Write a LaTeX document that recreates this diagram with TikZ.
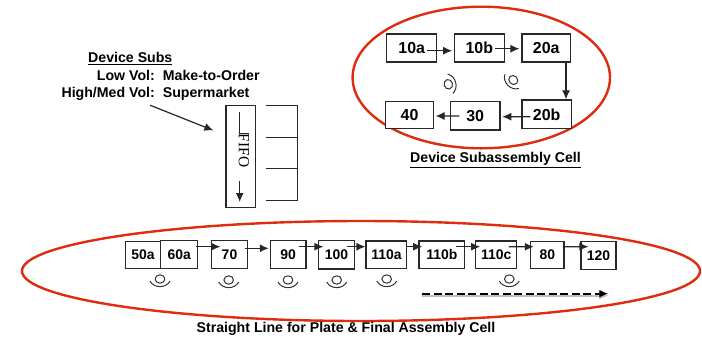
\documentclass[tikz,border=0pt]{standalone}
\usepackage{fontspec}
\setmainfont{Liberation Sans}
\newfontfamily\fifofont{Liberation Serif}
\usetikzlibrary{positioning, calc, arrows.meta}
\definecolor{cellred}{RGB}{222, 44, 14}
\definecolor{boxline}{RGB}{40, 40, 40}
\tikzset{
  stn/.style={draw=boxline, fill=white, line width=1.2bp, inner sep=0pt, font=\fontsize{#1}{#1}\selectfont\bfseries},
  stn/.default=14,
  caption/.style={inner sep=0pt, font=\fontsize{14.2}{14.2}\selectfont\bfseries},
  flow/.style={-{Latex[length=9bp,width=8bp]}, line width=1.2bp, draw=black!85},
  cell/.style={draw=cellred, line width=2.4bp},
  oper/.pic={
    \draw[line width=1bp, black!80] (0,0) ellipse (4.8 and 4.2);
    \draw[line width=1bp, black!80] (-10,2) .. controls (-6,9.5) and (6,9.5) .. (10,2);
  }
}
\begin{document}
\begin{tikzpicture}[x=1bp, y=-1bp]
            \useasboundingbox (0,0) rectangle (702,340);
            \fill[white] (0,0) rectangle (702,340);
            % Subassembly cell
            \draw[cell] (481.3,77.5) ellipse (128.7 and 70.8);
            \node[stn=16, minimum width=50bp, minimum height=28bp] (s10a) at (411.7,48) {10a};
            \node[stn=16, minimum width=50bp, minimum height=28bp] (s10b) at (479.3,48) {10b};
            \node[stn=16, minimum width=48.3bp, minimum height=28bp] (s20a) at (546.2,48) {20a};
            \node[stn=16, minimum width=49.3bp, minimum height=28.7bp] (s20b) at (546.7,114.3) {20b};
            \node[stn=16, minimum width=49.7bp, minimum height=28.7bp] (s30) at (475.2,115.7) {30};
            \node[stn=16, minimum width=48.4bp, minimum height=27.4bp] (s40) at (409.5,115) {40};
            \draw[flow] ([shift={(-10,2.7)}]s10a.east) -- ([shift={(-1.6,2.7)}]s10b.west);
            \draw[flow] ([shift={(-10.3,0.7)}]s10b.east) -- ([shift={(-2,0.7)}]s20a.west);
            \draw[flow] ([xshift=19.8bp]s20a.south) -- ([xshift=19.3bp]s20b.north);
            \draw[flow] ([shift={(9,2.4)}]s20b.west) -- ([shift={(1.7,1)}]s30.east);
            \draw[flow] ([shift={(9.6,0.3)}]s30.west) -- ([shift={(1.3,1)}]s40.east);
            \pic[rotate=105] at (448.3,84.3) {oper};
            \pic[rotate=-45] at (513.3,80) {oper};
            \node[caption] (subcap) at (495.5,160) {\underline{Device Subassembly Cell}};
            % Supermarket note
            \node[caption] (subhead) at (130.3,58.3) {\underline{Device Subs}};
            \node[caption, anchor=base east] (lowvol) at (155,80) {Low Vol:};
            \node[caption, anchor=base west] (lowval) at (162.7,80) {Make-to-Order};
            \node[caption, anchor=base east] (hivol) at (155,97) {High/Med Vol:};
            \node[caption, anchor=base west] (hival) at (162.7,97) {Supermarket};
            % FIFO lane
            \node[draw=boxline, line width=1.2bp, minimum width=29.7bp, minimum height=101.6bp, inner sep=0pt] (fifobox) at (240.8,156.5) {};
            \node[rotate=-90, inner sep=0pt, font=\fontsize{15.5}{15.5}\selectfont\fifofont] (fifotxt) at (244,150.5) {FIFO};
            \coordinate (fifotop) at (239.7,111.7);
            \coordinate (fifomid) at (239.7,133);
            \coordinate (fifodown) at (239.7,180.7);
            \coordinate (fifoend) at (239.7,202);
            \draw[line width=1bp, black!85] (fifotop) -- (fifomid) -- (fifotxt.north west |- fifomid);
            \draw[flow] (fifodown) -- (fifoend);
            \draw[flow] ([shift={(-5,5)}]hivol.south east) -- ([shift={(-12,25.3)}]fifobox.north west);
            \draw[line width=1.2bp, boxline] (266,105.7) -- (297.7,105.7) -- (297.7,200.3) -- (266,200.3);
            \draw[line width=1.2bp, boxline] (266,137.3) -- (297.7,137.3);
            \draw[line width=1.2bp, boxline] (266,168.7) -- (297.7,168.7);
            % Final assembly cell
            \draw[cell] (361,271) ellipse (339 and 50);
            \node[stn, minimum width=35.4bp, minimum height=26.6bp] (s50a) at (143,255) {50a};
            \node[stn, minimum width=37bp, minimum height=28bp] (s60a) at (179.2,254.3) {60a};
            \node[stn, minimum width=35.6bp, minimum height=28bp] (s70) at (229.5,254.3) {70};
            \node[stn, minimum width=35.7bp, minimum height=28bp] (s90) at (288.2,254.3) {90};
            \node[stn, minimum width=35.6bp, minimum height=28.7bp] (s100) at (336.5,254.7) {100};
            \node[stn, minimum width=40.7bp, minimum height=27.3bp] (s110a) at (386.4,254.7) {110a};
            \node[stn, minimum width=45.7bp, minimum height=27.3bp] (s110b) at (441.9,254.7) {110b};
            \node[stn, minimum width=41bp, minimum height=27.3bp] (s110c) at (496.2,254.7) {110c};
            \node[stn, minimum width=33.3bp, minimum height=27.7bp] (s80) at (547.4,255) {80};
            \node[stn, minimum width=35bp, minimum height=27.7bp] (s120) at (598.5,255.5) {120};
            \draw[flow] ([shift={(-2.7,-7.6)}]s60a.east) -- ([shift={(9.3,-7.6)}]s70.west);
            \draw[flow] ([shift={(-3,-6)}]s70.east) -- ([shift={(-1,-6)}]s90.west);
            \draw[flow] ([shift={(-7.7,-7.6)}]s90.east) -- ([shift={(5.3,-8)}]s100.west);
            \draw[flow] ([shift={(-7.6,-8)}]s100.east) -- ([shift={(0,-8)}]s110a.west);
            \draw[flow] ([shift={(0,-8)}]s110a.east) -- ([shift={(3.7,-8)}]s110b.west);
            \draw[flow] ([shift={(-9.7,-8)}]s110b.east) -- ([shift={(5,-8)}]s110c.west);
            \draw[flow] ([shift={(-8.4,-8)}]s110c.east) -- ([shift={(3.6,-8.3)}]s80.west);
            \draw[flow] ([shift={(-0.7,-8.3)}]s80.east) -- ([shift={(8,-8.8)}]s120.west);
            \foreach \px/\py in {160/279, 228.7/280, 288/280, 336.7/280, 386.7/279, 509.3/279}
              \pic at (\px,\py) {oper};
            % Takt direction
            \coordinate (taktstart) at (422.3,293.7);
            \coordinate (taktend) at (608.3,293.7);
            \draw[-{Latex[length=9bp,width=8bp]}, line width=2.2bp, dash pattern=on 8bp off 3.5bp,
              preaction={draw=black!25, line width=2bp, transform canvas={yshift=-2bp}}] (taktstart) -- (taktend);
            \node[caption] (linecap) at (346,329.3) {Straight Line for Plate \& Final Assembly Cell};
        \end{tikzpicture}
\end{document}
